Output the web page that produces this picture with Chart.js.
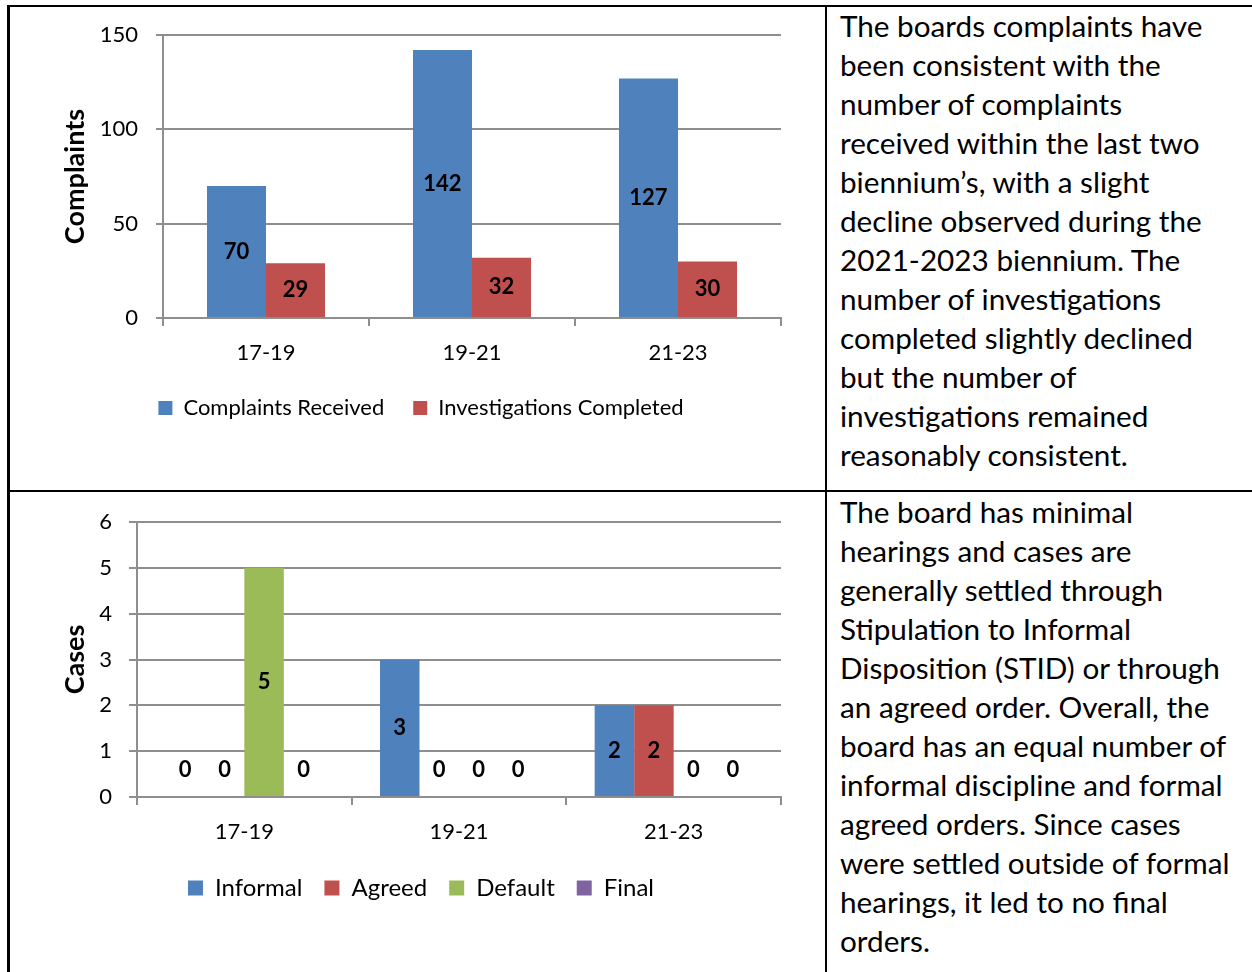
<!DOCTYPE html>
<html>
<head>
<meta charset="utf-8">
<script src="https://cdn.jsdelivr.net/npm/chart.js@4.4.0/dist/chart.umd.min.js"></script>
<style>
	body { margin: 0; background: #fff; width: 1252px; height: 972px; position: relative; overflow: hidden; font-family: Lato, sans-serif; }
	.line { position: absolute; background: #000; }
	.cell-text { position: absolute; left: 840px; font-size: 29.7px; line-height: 39px; color: #000; white-space: nowrap; }
	canvas { position: absolute; }
</style>
</head>
<body>
<div class="line" style="left:7px; top:5px; width:1245px; height:2px;"></div>
<div class="line" style="left:7px; top:490px; width:1245px; height:2px;"></div>
<div class="line" style="left:7px; top:5px; width:3px; height:967px;"></div>
<div class="line" style="left:825px; top:5px; width:2px; height:967px;"></div>

<canvas id="complaintsChart" width="814" height="482" style="left:10px; top:7px;"></canvas>
<canvas id="casesChart" width="814" height="479" style="left:10px; top:493px;"></canvas>

<div class="cell-text" style="top:6px;">
The boards complaints have<br>
been consistent with the<br>
number of complaints<br>
received within the last two<br>
biennium’s, with a slight<br>
decline observed during the<br>
2021-2023 biennium. The<br>
number of investigations<br>
completed slightly declined<br>
but the number of<br>
investigations remained<br>
reasonably consistent.
</div>
<div class="cell-text" style="top:492px;">
The board has minimal<br>
hearings and cases are<br>
generally settled through<br>
Stipulation to Informal<br>
Disposition (STID) or through<br>
an agreed order. Overall, the<br>
board has an equal number of<br>
informal discipline and formal<br>
agreed orders. Since cases<br>
were settled outside of formal<br>
hearings, it led to no final<br>
orders.
</div>

<script>
const periods = ["17-19", "19-21", "21-23"];

// chart 1
const complaintsReceived = [70, 142, 127];
const investigationsCompleted = [29, 32, 30];

// chart 2
const informalCases = [0, 3, 2];
const agreedCases = [0, 0, 2];
const defaultCases = [5, 0, 0];
const finalCases = [0, 0, 0];

const BLUE = "#4F81BD";
const RED = "#C0504D";
const GREEN = "#9BBB59";
const PURPLE = "#8064A2";
const GRID = "#8e8e8e";
const FONT = "Lato";

// value labels in the middle of each bar (zero bars get label just above the axis)
const barLabels = {
	id: "barLabels",
	afterDatasetsDraw(chart, args, opts) {
		const ctx = chart.ctx;
		ctx.save();
		ctx.font = "bold 22px " + FONT;
		ctx.fillStyle = "#000";
		ctx.textAlign = "center";
		ctx.textBaseline = "middle";
		chart.data.datasets.forEach((ds, i) => {
			chart.getDatasetMeta(i).data.forEach((bar, j) => {
				const v = ds.data[j];
				const y = v === 0 ? bar.base - opts.zeroOffset : (bar.y + bar.base) / 2;
				ctx.fillText(String(v), bar.x, y);
			});
		});
		ctx.restore();
	},
};

function makeOptions(cfg) {
	return {
		responsive: false,
		animation: false,
		layout: { padding: { left: 51, right: 43, top: cfg.top, bottom: cfg.bottom } },
		scales: {
			x: {
				offset: true,
				grid: {
					offset: true,
					drawOnChartArea: false,
					drawTicks: true,
					tickLength: 8,
					color: GRID,
					lineWidth: 2,
				},
				border: { color: GRID, width: 2 },
				ticks: { color: "#000", padding: 14, font: { family: FONT, size: 22 } },
				afterFit: (scale) => { scale.height = cfg.xHeight; },
			},
			y: {
				min: 0,
				max: cfg.max,
				ticks: {
					stepSize: cfg.step,
					color: "#000",
					padding: cfg.tickPad,
					// small lineHeight so the top label does not push the plot down
					font: { family: FONT, size: 22, lineHeight: 0.6 },
				},
				grid: { color: GRID, lineWidth: 2, tickLength: cfg.tickLen },
				border: { color: GRID, width: 2 },
				title: {
					display: true,
					text: cfg.title,
					color: "#000",
					font: { family: FONT, size: 27, weight: "bold", lineHeight: 1.2 },
					padding: { top: -2, bottom: 0 },
				},
				afterFit: (scale) => { scale.width = cfg.yWidth; },
			},
		},
		plugins: {
			tooltip: { enabled: false },
			legend: {
				position: "bottom",
				labels: {
					color: "#000",
					boxWidth: cfg.box,
					boxHeight: cfg.box,
					padding: cfg.legendPad,
					font: { family: FONT, size: cfg.legendSize },
				},
			},
			barLabels: { zeroOffset: 27 },
		},
	};
}

new Chart(document.getElementById("complaintsChart").getContext("2d"), {
	type: "bar",
	data: {
		labels: periods,
		datasets: [
			{ label: "Complaints Received", data: complaintsReceived, backgroundColor: BLUE, barPercentage: 1, categoryPercentage: 0.573 },
			{ label: "Investigations Completed", data: investigationsCompleted, backgroundColor: RED, barPercentage: 1, categoryPercentage: 0.573 },
		],
	},
	options: makeOptions({
		top: 28, bottom: 60, xHeight: 50, yWidth: 102, max: 150, step: 50,
		tickPad: 18, tickLen: 7, title: "Complaints", box: 14, legendPad: 29, legendSize: 22,
	}),
	plugins: [barLabels],
});

new Chart(document.getElementById("casesChart").getContext("2d"), {
	type: "bar",
	data: {
		labels: periods,
		datasets: [
			{ label: "Informal", data: informalCases, backgroundColor: BLUE, barPercentage: 1, categoryPercentage: 0.736 },
			{ label: "Agreed", data: agreedCases, backgroundColor: RED, barPercentage: 1, categoryPercentage: 0.736 },
			{ label: "Default", data: defaultCases, backgroundColor: GREEN, barPercentage: 1, categoryPercentage: 0.736 },
			{ label: "Final", data: finalCases, backgroundColor: PURPLE, barPercentage: 1, categoryPercentage: 0.736 },
		],
	},
	options: makeOptions({
		top: 29, bottom: 62, xHeight: 57, yWidth: 76, max: 6, step: 1,
		tickPad: 17, tickLen: 8, title: "Cases", box: 15, legendPad: 22, legendSize: 24,
	}),
	plugins: [barLabels],
});
</script>
</body>
</html>
